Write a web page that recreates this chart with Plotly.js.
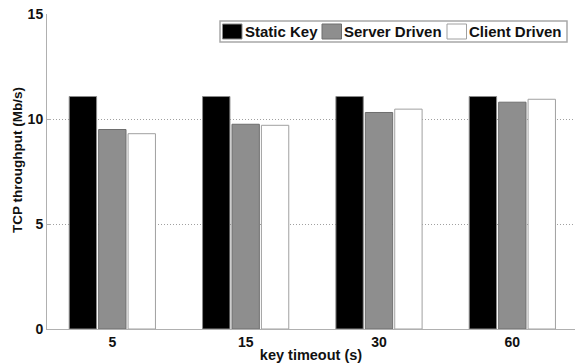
<!DOCTYPE html>
<html>
<head>
<meta charset="utf-8">
<script src="https://cdn.plot.ly/plotly-3.0.1.min.js"></script>
<style>
  html, body { margin: 0; padding: 0; background: #fff; overflow: hidden; }
  #chart { width: 575px; height: 363px; }
</style>
</head>
<body>
<div id="chart"></div>
<script>
// Key timeout settings (seconds) along the x axis
const timeouts = ['5', '15', '30', '60'];

// TCP throughput (Mb/s) for each key management scheme
const staticKey    = [11.07, 11.07, 11.07, 11.07];
const serverDriven = [9.5, 9.75, 10.31, 10.8];
const clientDriven = [9.3, 9.7, 10.47, 10.94];

const seriesNames = ['Static Key', 'Server Driven', 'Client Driven'];
const yTicks = [0, 5, 10, 15];

const W = 575, H = 363;
const M = { l: 47, r: 0, t: 14, b: 34 };
const plotW = W - M.l - M.r, plotH = H - M.t - M.b;
// pixel -> paper coordinate helpers for the legend and the y title
const px = x => (x - M.l) / plotW;
const py = y => (H - M.b - y) / plotH;

const fontFam = 'Liberation Sans, Arial, Helvetica, sans-serif';
const ink = '#111111';

const styles = [
  { fill: '#000000', line: '#8a8a8a' },
  { fill: '#8e8e8e', line: '#6e6e6e' },
  { fill: '#ffffff', line: '#a0a0a0' }
];

const values = [staticKey, serverDriven, clientDriven];
const traces = values.map((v, i) => ({
  type: 'bar',
  name: seriesNames[i],
  x: timeouts,
  y: v,
  marker: { color: styles[i].fill, line: { color: styles[i].line, width: 1 } },
  showlegend: false,
  hoverinfo: 'x+y+name'
}));

// Boxed legend drawn with shapes and annotations
const shapes = [{
  type: 'rect', xref: 'paper', yref: 'paper',
  x0: px(220), x1: px(567), y0: py(42), y1: py(21),
  line: { color: '#a8a8a8', width: 1.5 }, fillcolor: '#ffffff', layer: 'above'
}];
const annotations = [];
const swatchX = [222.5, 322, 447];
seriesNames.forEach((name, i) => {
  shapes.push({
    type: 'rect', xref: 'paper', yref: 'paper',
    x0: px(swatchX[i]), x1: px(swatchX[i] + 19.5), y0: py(39), y1: py(24),
    line: { color: styles[i].line, width: 1 }, fillcolor: styles[i].fill, layer: 'above'
  });
  annotations.push({
    xref: 'paper', yref: 'paper', x: px(swatchX[i] + 20), y: py(31.5),
    xanchor: 'left', yanchor: 'middle', showarrow: false, text: name,
    font: { family: fontFam, size: 15, weight: 'bold', color: ink }
  });
});

// y axis title
annotations.push({
  xref: 'paper', yref: 'paper', x: px(17), y: py(160),
  xanchor: 'center', yanchor: 'middle', showarrow: false, textangle: -90,
  text: 'TCP throughput (Mb/s)',
  font: { family: fontFam, size: 13.5, weight: 'bold', color: ink }
});

const layout = {
  width: W, height: H,
  margin: M,
  paper_bgcolor: '#ffffff', plot_bgcolor: '#ffffff',
  barmode: 'group', bargap: 0.338, bargroupgap: 0.07,
  font: { family: fontFam, color: ink },
  xaxis: {
    type: 'category', range: [-0.49, 3.47],
    showline: true, linecolor: '#b0b0b0', linewidth: 1,
    showgrid: false, ticks: '', zeroline: false,
    tickfont: { family: fontFam, size: 14, weight: 'bold', color: ink },
    title: { text: 'key timeout (s)', standoff: 5,
             font: { family: fontFam, size: 14.5, weight: 'bold', color: ink } }
  },
  yaxis: {
    range: [0, 15], tickvals: yTicks, ticktext: yTicks.map(String),
    showline: true, linecolor: '#b0b0b0', linewidth: 1,
    showgrid: true, gridcolor: '#a0a0a0', griddash: '1px,2px', gridwidth: 1,
    zeroline: false, ticks: 'inside', ticklen: 4, tickcolor: '#b0b0b0',
    tickfont: { family: fontFam, size: 14, weight: 'bold', color: ink }
  },
  shapes: shapes,
  annotations: annotations
};

Plotly.newPlot('chart', traces, layout, { displayModeBar: false, staticPlot: true });
</script>
</body>
</html>
